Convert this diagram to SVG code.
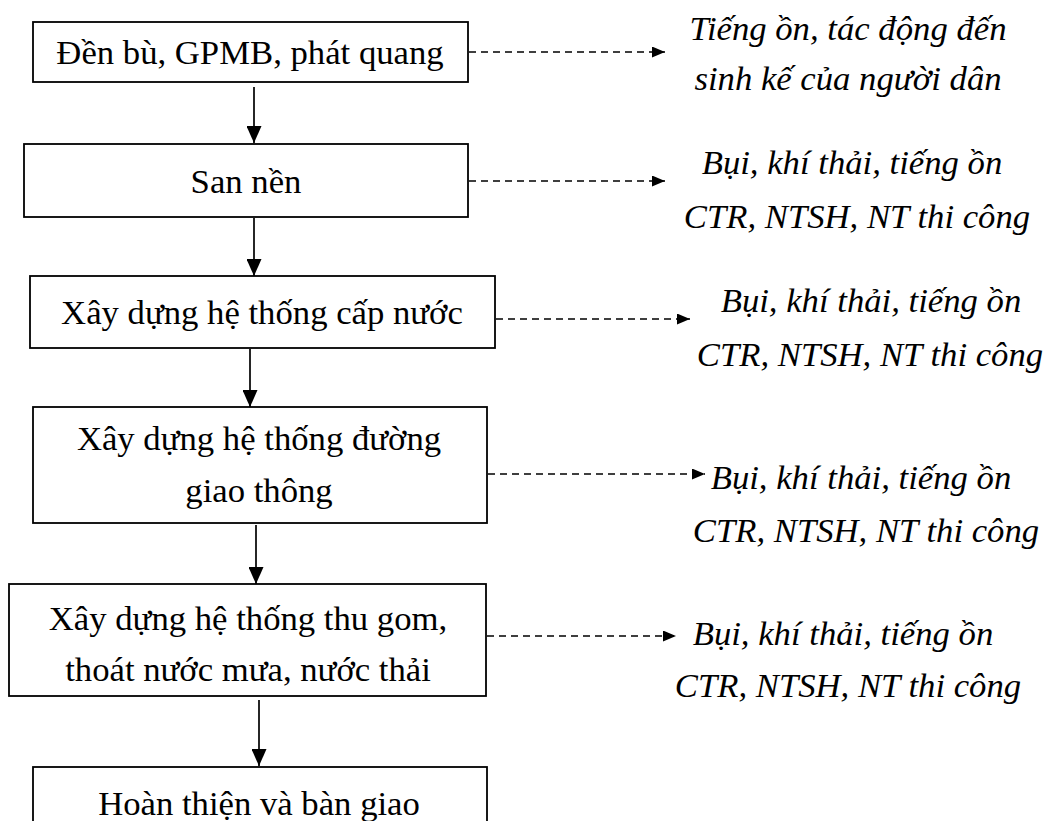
<svg xmlns="http://www.w3.org/2000/svg" width="1046" height="821" viewBox="0 0 1046 821">
<style>
.box{fill:#fff;stroke:#000;stroke-width:1.8}
.t{font-family:"Liberation Serif","Times New Roman",serif;font-size:34.7px;fill:#000;text-anchor:middle}
.i{font-family:"Liberation Serif","Times New Roman",serif;font-size:34.7px;font-style:italic;fill:#000;text-anchor:middle}
.solid{stroke:#000;stroke-width:1.7;fill:none}
.dash{stroke:#000;stroke-width:1.6;fill:none;stroke-dasharray:7,5}
</style>
<defs>
<marker id="ah" viewBox="0 0 17 15" refX="17" refY="7.5" markerWidth="17" markerHeight="15" markerUnits="userSpaceOnUse" orient="auto">
<path d="M0,0 L17,7.5 L0,15 Z" fill="#000"/>
</marker>
<marker id="dh" viewBox="0 0 13 11" refX="13" refY="5.5" markerWidth="13" markerHeight="11" markerUnits="userSpaceOnUse" orient="auto">
<path d="M0,0 L13,5.5 L0,11 Z" fill="#000"/>
</marker>
<clipPath id="clip1"><rect x="600" y="0" width="446" height="97"/></clipPath>
</defs>
<rect width="1046" height="821" fill="#fff"/>
<g id="connectors">
<line class="solid" x1="254" y1="87" x2="254" y2="143" marker-end="url(#ah)"/>
<line class="solid" x1="254" y1="218" x2="254" y2="276" marker-end="url(#ah)"/>
<line class="solid" x1="250" y1="349" x2="250" y2="407" marker-end="url(#ah)"/>
<line class="solid" x1="256" y1="525" x2="256" y2="584" marker-end="url(#ah)"/>
<line class="solid" x1="259" y1="700" x2="259" y2="766" marker-end="url(#ah)"/>
<line class="dash" x1="469" y1="52" x2="665" y2="52" marker-end="url(#dh)"/>
<line class="dash" x1="469" y1="181" x2="665" y2="181" marker-end="url(#dh)"/>
<line class="dash" x1="496" y1="319" x2="690" y2="319" marker-end="url(#dh)"/>
<line class="dash" x1="488" y1="474" x2="705" y2="474" marker-end="url(#dh)"/>
<line class="dash" x1="487" y1="636" x2="676" y2="636" marker-end="url(#dh)"/>
</g>
<g id="n1">
<rect class="box" x="33" y="22" width="435" height="60"/>
<text class="t" x="250" y="64">Đền bù, GPMB, phát quang</text>
</g>
<g id="n2">
<rect class="box" x="24" y="144" width="444" height="73"/>
<text class="t" x="246" y="193">San nền</text>
</g>
<g id="n3">
<rect class="box" x="30" y="276" width="465" height="72"/>
<text class="t" x="262" y="324">Xây dựng hệ thống cấp nước</text>
</g>
<g id="n4">
<rect class="box" x="33" y="407" width="454" height="116"/>
<text class="t" x="259" y="450">Xây dựng hệ thống đường</text>
<text class="t" x="259" y="502">giao thông</text>
</g>
<g id="n5">
<rect class="box" x="9" y="584" width="477" height="112"/>
<text class="t" x="248" y="630">Xây dựng hệ thống thu gom,</text>
<text class="t" x="248" y="681">thoát nước mưa, nước thải</text>
</g>
<g id="n6">
<rect class="box" x="33" y="767" width="454" height="80"/>
<text class="t" x="259" y="815">Hoàn thiện và bàn giao</text>
</g>
<g id="e1" clip-path="url(#clip1)">
<text class="i" x="848" y="40">Tiếng ồn, tác động đến</text>
<text class="i" x="848" y="90">sinh kế của người dân</text>
</g>
<g id="e2">
<text class="i" x="852" y="174">Bụi, khí thải, tiếng ồn</text>
<text class="i" x="857" y="228">CTR, NTSH, NT thi công</text>
</g>
<g id="e3">
<text class="i" x="871" y="312">Bụi, khí thải, tiếng ồn</text>
<text class="i" x="870" y="366">CTR, NTSH, NT thi công</text>
</g>
<g id="e4">
<text class="i" x="861" y="489">Bụi, khí thải, tiếng ồn</text>
<text class="i" x="866" y="542">CTR, NTSH, NT thi công</text>
</g>
<g id="e5">
<text class="i" x="843" y="645">Bụi, khí thải, tiếng ồn</text>
<text class="i" x="848" y="697">CTR, NTSH, NT thi công</text>
</g>
</svg>
